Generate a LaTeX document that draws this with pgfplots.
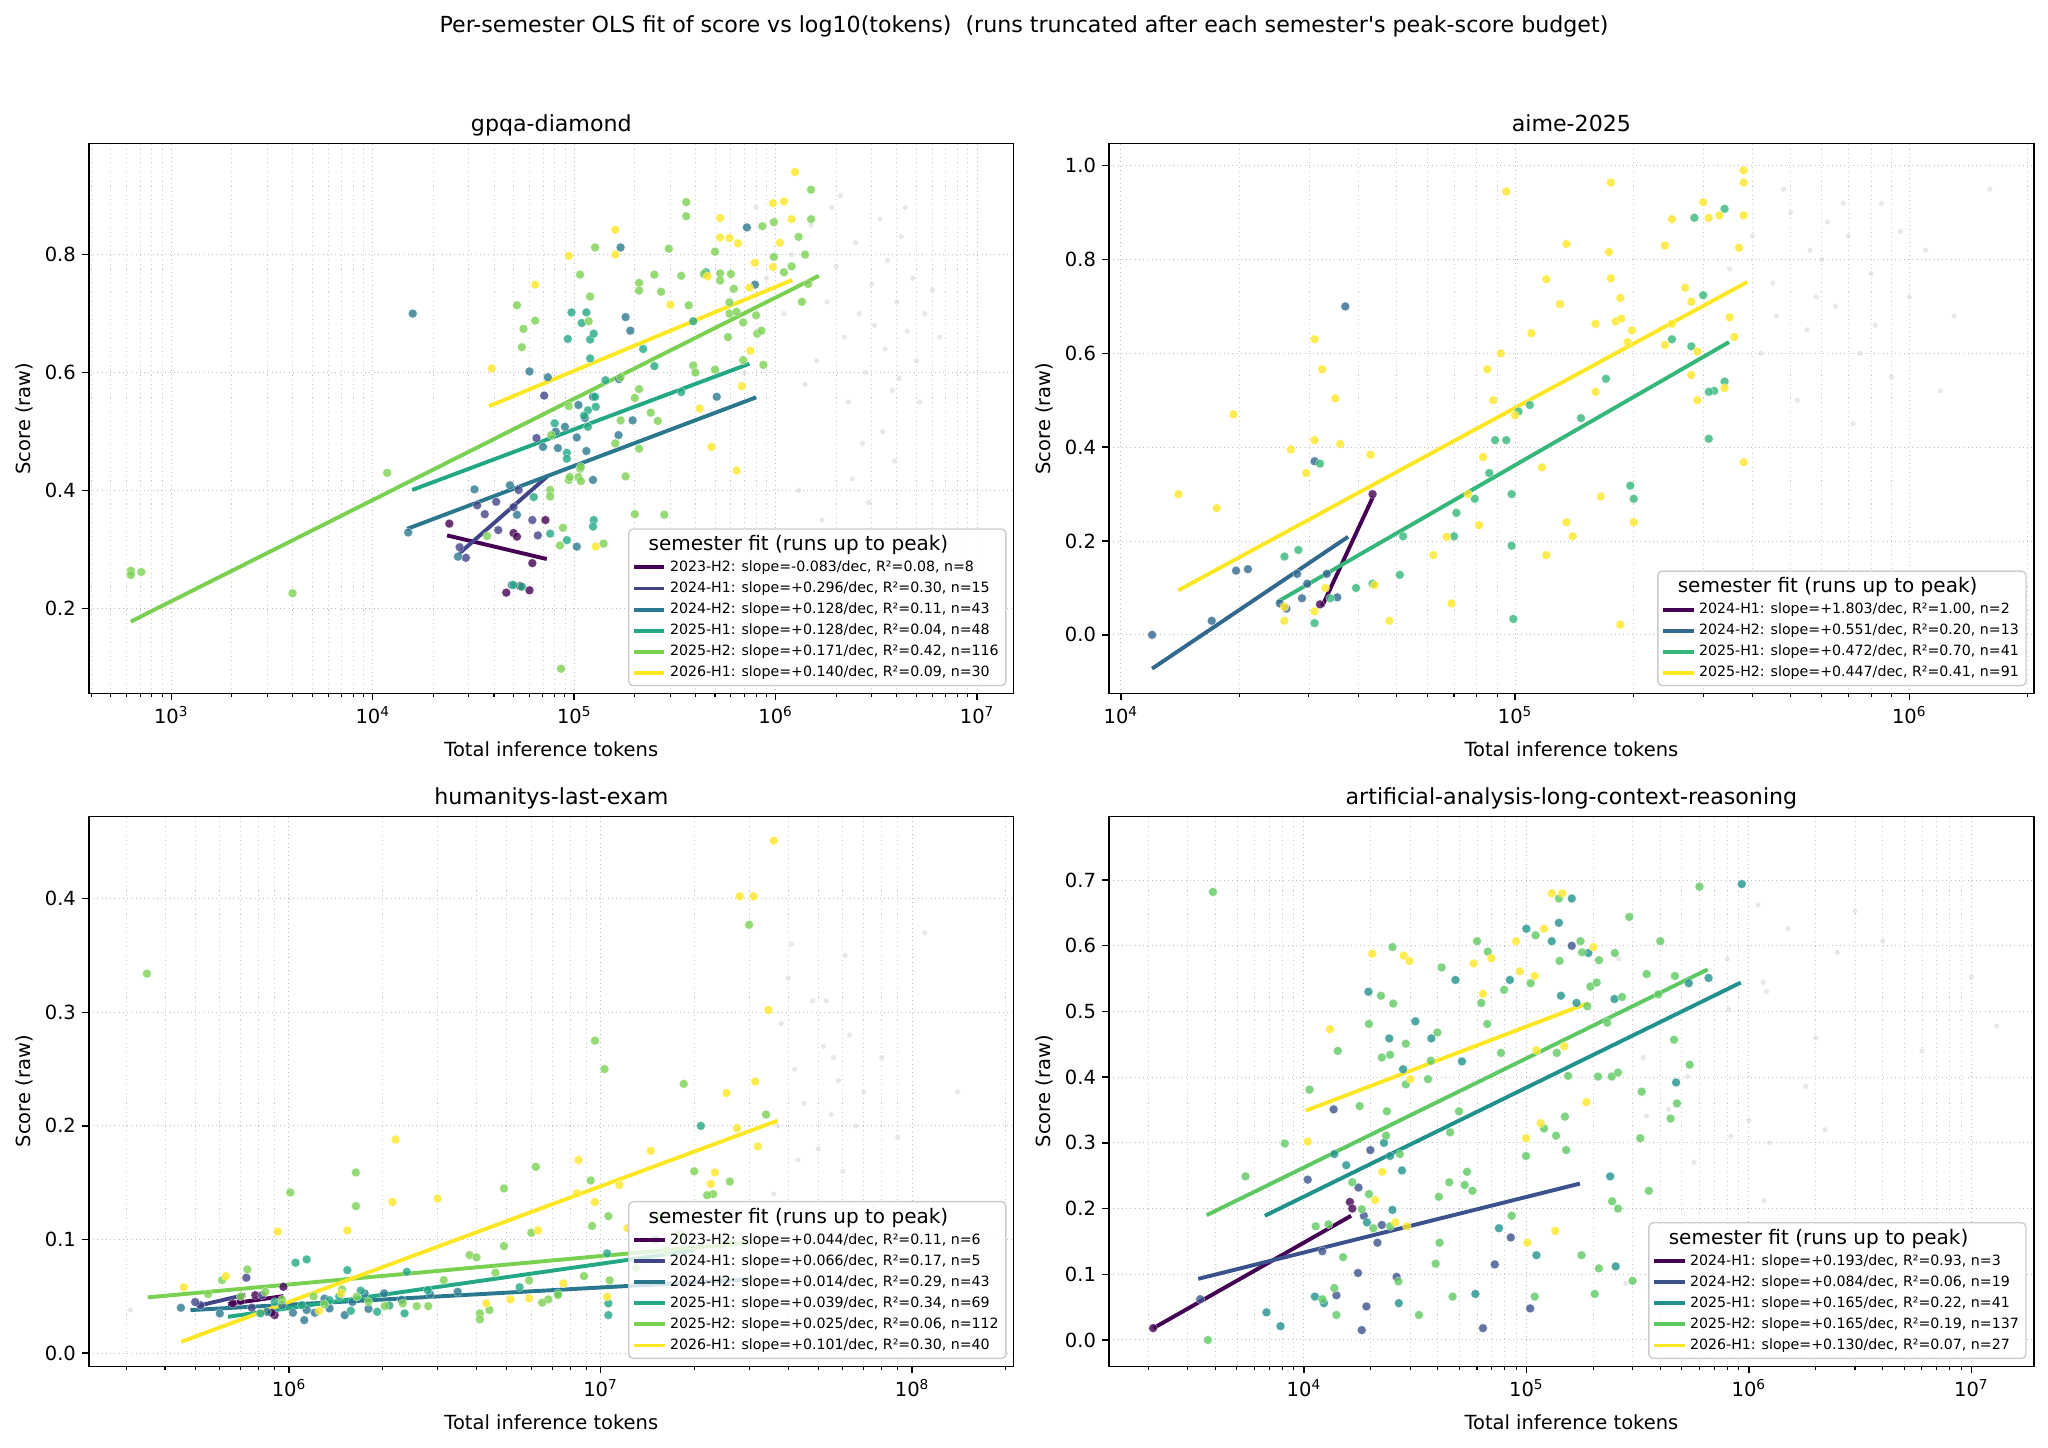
\documentclass[border=0pt]{standalone}
\usepackage{fontspec}
\setmainfont{DejaVu Sans}
\usepackage{pgfplots}
\pgfplotsset{compat=1.18}
\definecolor{vA}{HTML}{440154}
\definecolor{vB}{HTML}{414487}
\definecolor{vC}{HTML}{2A788E}
\definecolor{vD}{HTML}{22A884}
\definecolor{vE}{HTML}{7AD151}
\definecolor{vF}{HTML}{FDE725}
\definecolor{wB}{HTML}{31688E}
\definecolor{wC}{HTML}{35B779}
\definecolor{uB}{HTML}{3B528B}
\definecolor{uC}{HTML}{21918C}
\definecolor{uD}{HTML}{5EC962}
\pgfplotsset{
  every axis title shift=0pt,
  every axis/.append style={
    scale only axis, width=520.2bp, height=309.3bp, anchor=north west,
    tick align=outside, tick pos=left,
    major tick length=3.85bp, minor tick length=2.2bp,
    every tick/.style={black, line width=0.8bp},
    every minor tick/.style={black, line width=0.6bp},
    axis line style={line width=0.8bp, black},
    xmajorgrids, xminorgrids, ymajorgrids,
    grid style={dotted, line width=0.6bp, black!25},
    minor grid style={dotted, line width=0.5bp, black!20},
    tick label style={font=\fontsize{11}{13}\selectfont},
    title style={at={(axis description cs:0.5,1.0213)}, anchor=base, inner sep=0pt, font=\fontsize{12.5}{15}\selectfont},
    xlabel style={at={(axis description cs:0.5,-0.1148)}, anchor=base, inner sep=0pt, font=\fontsize{11}{13}\selectfont},
    ylabel style={at={(axis description cs:-0.0631,0.5)}, anchor=base, inner sep=0pt, font=\fontsize{11}{13}\selectfont},
    xlabel={Total inference tokens}, ylabel={Score (raw)},
    legend cell align=left,
    legend style={at={(axis description cs:1,0)}, anchor=south east, xshift=-4bp, yshift=4bp,
      font=\fontsize{8}{9.6}\selectfont, draw=black!20, rounded corners=2.5bp, line width=0.8bp,
      fill=white, fill opacity=0.8, text opacity=1, draw opacity=1,
      inner xsep=2bp, inner ysep=1.5bp, row sep=0.3bp, nodes={inner sep=2bp}},
  },
  mypts/.style={only marks, mark=*, mark size=2.5bp, color=#1, mark options={fill=#1, draw=white, line width=0.25bp, fill opacity=0.8, draw opacity=0.6}, forget plot},
  mygray/.style={only marks, mark=*, mark size=1.5bp, color=black!18, mark options={fill=black!18, draw=black!18, draw opacity=0, fill opacity=0.5}, forget plot},
  myfit/.style={color=#1, line width=2.2bp, no markers},
}
\newcommand{\legtitle}{\addlegendimage{empty legend}\addlegendentry{\fontsize{11.3}{13}\selectfont\hspace{-12bp}semester fit (runs up to peak)}}
\begin{document}
\begin{tikzpicture}
\path[use as bounding box] (0,0) rectangle (1152bp,-814.5bp);
\node[font=\fontsize{12.5}{15}\selectfont, anchor=base] at (576bp,-18.5bp) {Per-semester OLS fit of score vs log10(tokens)\ \ (runs truncated after each semester\textquotesingle s peak-score budget)};

% ---------------- gpqa-diamond ----------------
\begin{axis}[xmode=log, at={(50bp,-80.8bp)}, title={gpqa-diamond},
  xmin=390, xmax=1.52e7, ymin=0.056, ymax=0.988,
  xtick={1e3,1e4,1e5,1e6,1e7},
  xticklabels={10\textsuperscript{3},10\textsuperscript{4},10\textsuperscript{5},10\textsuperscript{6},10\textsuperscript{7}},
  minor xtick={4e2,5e2,6e2,7e2,8e2,9e2,2e3,3e3,4e3,5e3,6e3,7e3,8e3,9e3,2e4,3e4,4e4,5e4,6e4,7e4,8e4,9e4,2e5,3e5,4e5,5e5,6e5,7e5,8e5,9e5,2e6,3e6,4e6,5e6,6e6,7e6,8e6,9e6},
  ytick={0.2,0.4,0.6,0.8}, yticklabels={0.2,0.4,0.6,0.8}]
\legtitle
\addplot[mygray] coordinates {(1.2e6,0.80) (1.5e6,0.85) (1.8e6,0.72) (2.0e6,0.78) (2.2e6,0.66) (2.5e6,0.82) (2.6e6,0.70) (2.8e6,0.60) (3.0e6,0.75) (3.1e6,0.68) (3.3e6,0.86) (3.5e6,0.64) (3.6e6,0.79) (3.8e6,0.57) (4.0e6,0.72) (4.2e6,0.83) (4.5e6,0.67) (4.8e6,0.76) (5.0e6,0.62) (5.5e6,0.70) (6.0e6,0.74) (2.3e6,0.55) (2.7e6,0.48) (3.4e6,0.50) (1.6e6,0.62) (1.4e6,0.58) (1.9e6,0.88) (2.1e6,0.90) (4.4e6,0.88) (3.9e6,0.45) (1.3e6,0.40) (2.4e6,0.42) (1.7e6,0.35) (5.2e6,0.55) (6.5e6,0.66) (9e5,0.76) (7e5,0.60) (8e5,0.88) (5e5,0.30) (1.1e6,0.70) (2.9e6,0.38) (4.1e6,0.59)};
\addplot[mypts=vA] coordinates {(2.4e4,0.344) (5.0e4,0.328) (5.2e4,0.322) (7.2e4,0.350) (6.2e4,0.277) (6.0e4,0.231) (4.6e4,0.227) (5.4e4,0.238)};
\addplot[mypts=vB] coordinates {(6.5e4,0.489) (3.3e4,0.375) (4.1e4,0.381) (5.3e4,0.401) (5.0e4,0.372) (6.2e4,0.350) (4.2e4,0.333) (6.6e4,0.324) (2.9e4,0.286) (2.7e4,0.304) (7.1e4,0.561) (3.6e4,0.36)};
\addplot[mypts=vC] coordinates {(1.58e4,0.70) (1.5e4,0.329) (3.2e4,0.402) (6.0e4,0.602) (7.4e4,0.592) (9.0e4,0.508) (8.3e4,0.472) (1.05e5,0.545) (1.15e5,0.467) (1.24e5,0.559) (1.67e5,0.589) (1.8e5,0.694) (1.7e5,0.812) (1.9e5,0.671) (5.1e5,0.559) (7.2e5,0.846) (7.9e5,0.749) (1.24e5,0.418) (1.66e5,0.494) (1.95e5,0.519) (1.03e5,0.49) (1.13e5,0.523) (7.0e4,0.474) (4.8e4,0.409) (5.2e4,0.359) (2.65e4,0.288) (4.9e4,0.24) (1.03e5,0.305) (8.1e4,0.50)};
\addplot[mypts=vD] coordinates {(6.3e4,0.389) (7.6e4,0.327) (9.2e4,0.316) (1.25e5,0.35) (1.24e5,0.339) (5.0e4,0.24) (5.5e4,0.237) (8.0e4,0.514) (9.2e4,0.464) (9.2e4,0.454) (1.17e5,0.536) (1.28e5,0.542) (1.12e5,0.527) (1.17e5,0.508) (9.7e4,0.702) (1.15e5,0.702) (1.09e5,0.684) (1.2e5,0.656) (1.2e5,0.624) (1.25e5,0.666) (9.3e4,0.657) (1.27e5,0.559) (1.43e5,0.587) (3.9e5,0.687) (4.5e5,0.77) (2.5e5,0.611) (3.4e5,0.567) (2.2e5,0.64)};
\addplot[mypts=vE] coordinates {(630,0.264) (630,0.257) (710,0.262) (4.0e3,0.226) (1.18e4,0.43) (5.2e4,0.714) (5.6e4,0.674) (5.5e4,0.643) (6.4e4,0.688) (1.07e5,0.766) (1.2e5,0.729) (1.18e5,0.687) (1.27e5,0.812) (2.1e5,0.752) (2.1e5,0.739) (2.5e5,0.766) (2.7e5,0.737) (2.95e5,0.81) (3.4e5,0.764) (3.7e5,0.714) (3.6e5,0.865) (3.6e5,0.889) (4.4e5,0.767) (5.0e5,0.805) (5.3e5,0.768) (6.0e5,0.767) (5.3e5,0.756) (6.2e5,0.742) (5.9e5,0.719) (5.9e5,0.70) (6.4e5,0.703) (6.9e5,0.685) (5.8e5,0.66) (6.9e5,0.621) (8.0e5,0.697) (8.1e5,0.666) (9.8e5,0.796) (8.6e5,0.848) (9.8e5,0.855) (8.7e5,0.613) (8.5e5,0.671) (3.9e5,0.612) (4.0e5,0.60) (5.0e5,0.605) (2.0e5,0.557) (2.1e5,0.572) (2.4e5,0.532) (2.6e5,0.518) (2.1e5,0.471) (1.8e5,0.424) (1.7e5,0.519) (1.7e5,0.592) (1.6e5,0.48) (1.07e5,0.437) (1.05e5,0.423) (9.4e4,0.418) (7.6e4,0.401) (7.6e4,0.39) (8.8e4,0.337) (2.8e5,0.359) (3.7e4,0.323) (8.5e4,0.307) (1.08e5,0.44) (9.5e4,0.423) (1.08e5,0.416) (7.7e4,0.494) (9.4e4,0.543) (8.6e4,0.098) (1.2e6,0.78) (1.3e6,0.83) (1.4e6,0.80) (1.5e6,0.91) (1.45e6,0.75) (1.35e6,0.72) (1.1e6,0.77) (1.5e6,0.86) (2.0e5,0.36) (1.4e5,0.31)};
\addplot[mypts=vF] coordinates {(3.9e4,0.607) (6.4e4,0.749) (9.4e4,0.798) (1.6e5,0.842) (1.6e5,0.80) (3.0e5,0.715) (4.6e5,0.763) (5.3e5,0.862) (5.3e5,0.829) (5.9e5,0.828) (6.5e5,0.819) (7.4e5,0.744) (7.9e5,0.786) (9.7e5,0.887) (9.7e5,0.779) (7.5e5,0.637) (6.8e5,0.577) (4.2e5,0.539) (4.8e5,0.474) (6.4e5,0.434) (1.28e5,0.305) (1.25e6,0.94) (1.1e6,0.89) (1.05e6,0.82) (1.2e6,0.86)};
\addplot[myfit=vA] coordinates {(2.34e4,0.324) (7.31e4,0.284)};
\addlegendentry{2023-H2: slope=-0.083/dec, R²=0.08, n=8}
\addplot[myfit=vB] coordinates {(2.68e4,0.293) (7.41e4,0.425)};
\addlegendentry{2024-H1: slope=+0.296/dec, R²=0.30, n=15}
\addplot[myfit=vC] coordinates {(1.48e4,0.335) (8.0e5,0.558)};
\addlegendentry{2024-H2: slope=+0.128/dec, R²=0.11, n=43}
\addplot[myfit=vD] coordinates {(1.57e4,0.401) (7.41e5,0.615)};
\addlegendentry{2025-H1: slope=+0.128/dec, R²=0.04, n=48}
\addplot[myfit=vE] coordinates {(630,0.178) (1.64e6,0.764)};
\addlegendentry{2025-H2: slope=+0.171/dec, R²=0.42, n=116}
\addplot[myfit=vF] coordinates {(3.78e4,0.543) (1.21e6,0.757)};
\addlegendentry{2026-H1: slope=+0.140/dec, R²=0.09, n=30}
\end{axis}

% ---------------- aime-2025 ----------------
\begin{axis}[xmode=log, at={(623.8bp,-80.8bp)}, title={aime-2025},
  xmin=9.33e3, xmax=2.07e6, ymin=-0.125, ymax=1.047,
  xtick={1e4,1e5,1e6},
  xticklabels={10\textsuperscript{4},10\textsuperscript{5},10\textsuperscript{6}},
  minor xtick={2e4,3e4,4e4,5e4,6e4,7e4,8e4,9e4,2e5,3e5,4e5,5e5,6e5,7e5,8e5,9e5,2e6},
  ytick={0,0.2,0.4,0.6,0.8,1.0}, yticklabels={0.0,0.2,0.4,0.6,0.8,1.0}]
\legtitle
\addplot[mygray] coordinates {(4e5,0.85) (4.5e5,0.75) (5e5,0.9) (5.5e5,0.65) (6e5,0.8) (6.5e5,0.7) (7e5,0.85) (7.5e5,0.6) (8e5,0.77) (8.5e5,0.92) (9e5,0.55) (1e6,0.72) (1.1e6,0.82) (1.3e6,0.68) (1.6e6,0.95) (4.2e5,0.6) (5.2e5,0.5) (6.2e5,0.88) (7.2e5,0.45) (8.2e5,0.66) (9.5e5,0.86) (4.8e5,0.95) (5.8e5,0.72) (6.8e5,0.92) (3.5e5,0.78) (1.2e6,0.52) (5.6e5,0.82) (4.6e5,0.68)};
\addplot[mypts=vA] coordinates {(3.2e4,0.065) (4.35e4,0.30)};
\addplot[mypts=wB] coordinates {(1.2e4,0.0) (1.7e4,0.03) (1.96e4,0.137) (2.1e4,0.14) (2.53e4,0.067) (2.63e4,0.056) (2.88e4,0.078) (2.97e4,0.109) (3.33e4,0.13) (3.71e4,0.70) (3.54e4,0.08) (3.1e4,0.37) (2.8e4,0.13)};
\addplot[mypts=wC] coordinates {(2.6e4,0.167) (2.82e4,0.181) (3.2e4,0.365) (3.95e4,0.10) (4.35e4,0.109) (5.1e4,0.128) (5.2e4,0.21) (7.0e4,0.21) (7.1e4,0.26) (7.9e4,0.29) (8.6e4,0.345) (8.9e4,0.415) (9.5e4,0.415) (9.8e4,0.19) (9.8e4,0.30) (9.9e4,0.034) (1.02e5,0.476) (1.09e5,0.49) (1.47e5,0.462) (1.7e5,0.546) (2.0e5,0.29) (1.96e5,0.318) (2.5e5,0.63) (2.8e5,0.615) (2.85e5,0.889) (3.4e5,0.908) (3.0e5,0.724) (3.1e5,0.418) (3.2e5,0.52) (3.4e5,0.54) (3.1e5,0.518) (3.1e4,0.025) (3.4e4,0.078)};
\addplot[mypts=vF] coordinates {(1.4e4,0.30) (1.75e4,0.27) (1.93e4,0.47) (2.7e4,0.395) (3.1e4,0.63) (3.24e4,0.566) (3.5e4,0.504) (3.6e4,0.407) (3.1e4,0.415) (2.95e4,0.345) (3.3e4,0.10) (4.3e4,0.384) (4.4e4,0.106) (4.8e4,0.03) (6.2e4,0.17) (6.7e4,0.209) (6.9e4,0.067) (7.6e4,0.30) (8.1e4,0.234) (8.3e4,0.379) (8.5e4,0.566) (8.8e4,0.50) (9.2e4,0.60) (9.5e4,0.945) (1.0e5,0.468) (1.1e5,0.643) (1.17e5,0.357) (1.2e5,0.17) (1.2e5,0.758) (1.3e5,0.705) (1.35e5,0.24) (1.4e5,0.21) (1.35e5,0.833) (1.6e5,0.518) (1.6e5,0.663) (1.65e5,0.295) (1.73e5,0.816) (1.75e5,0.76) (1.8e5,0.668) (1.85e5,0.718) (1.86e5,0.674) (1.93e5,0.624) (1.98e5,0.649) (2.0e5,0.24) (1.75e5,0.964) (2.4e5,0.618) (2.4e5,0.83) (2.5e5,0.663) (2.5e5,0.886) (2.7e5,0.74) (2.8e5,0.71) (2.8e5,0.554) (2.9e5,0.50) (2.9e5,0.604) (3.0e5,0.922) (3.1e5,0.889) (3.3e5,0.894) (3.5e5,0.677) (3.4e5,0.526) (3.6e5,0.635) (3.7e5,0.825) (3.8e5,0.368) (3.8e5,0.99) (3.8e5,0.964) (3.8e5,0.894) (1.85e5,0.022) (2.6e4,0.03) (2.6e4,0.06) (3.1e4,0.05)};
\addplot[myfit=vA] coordinates {(3.24e4,0.061) (4.36e4,0.294)};
\addlegendentry{2024-H1: slope=+1.803/dec, R²=1.00, n=2}
\addplot[myfit=wB] coordinates {(1.2e4,-0.072) (3.77e4,0.209)};
\addlegendentry{2024-H2: slope=+0.551/dec, R²=0.20, n=13}
\addplot[myfit=wC] coordinates {(2.49e4,0.07) (3.49e5,0.624)};
\addlegendentry{2025-H1: slope=+0.472/dec, R²=0.70, n=41}
\addplot[myfit=vF] coordinates {(1.4e4,0.095) (3.88e5,0.752)};
\addlegendentry{2025-H2: slope=+0.447/dec, R²=0.41, n=91}
\end{axis}

% ---------------- humanitys-last-exam ----------------
\begin{axis}[xmode=log, at={(50bp,-459.2bp)}, title={humanitys-last-exam},
  xmin=2.28e5, xmax=2.12e8, ymin=-0.0115, ymax=0.4724,
  xtick={1e6,1e7,1e8},
  xticklabels={10\textsuperscript{6},10\textsuperscript{7},10\textsuperscript{8}},
  minor xtick={3e5,4e5,5e5,6e5,7e5,8e5,9e5,2e6,3e6,4e6,5e6,6e6,7e6,8e6,9e6,2e7,3e7,4e7,5e7,6e7,7e7,8e7,9e7,2e8},
  ytick={0,0.1,0.2,0.3,0.4}, yticklabels={0.0,0.1,0.2,0.3,0.4}]
\legtitle
\addplot[mygray] coordinates {(3.1e5,0.038) (3.8e7,0.29) (4.0e7,0.33) (4.2e7,0.25) (4.5e7,0.22) (4.8e7,0.31) (5.0e7,0.18) (5.2e7,0.27) (5.5e7,0.21) (5.8e7,0.24) (6.0e7,0.16) (6.3e7,0.28) (6.6e7,0.20) (7.0e7,0.23) (7.5e7,0.13) (8.0e7,0.26) (4.4e7,0.12) (5.4e7,0.09) (3.6e7,0.14) (3.9e7,0.06) (4.6e7,0.05) (6.8e7,0.10) (9.0e7,0.19) (1.1e8,0.37) (1.4e8,0.23) (4.1e7,0.36) (5.3e7,0.31) (6.1e7,0.35) (3.7e7,0.20) (4.3e7,0.17) (5.6e7,0.26)};
\addplot[mypts=vA] coordinates {(9.6e5,0.0584) (9.0e5,0.0335) (7.8e5,0.051) (6.6e5,0.0438) (8.8e5,0.0356) (7.0e5,0.046)};
\addplot[mypts=vB] coordinates {(7.3e5,0.0664) (5.2e5,0.0423) (8.2e5,0.051) (5.0e5,0.045) (7.6e5,0.040)};
\addplot[mypts=vC] coordinates {(1.12e6,0.0291) (1.21e6,0.0356) (1.51e6,0.0335) (1.75e6,0.0526) (2.02e6,0.0526) (3.48e6,0.054) (2.84e6,0.0517) (1.03e6,0.0356) (8.5e5,0.0364) (1.35e6,0.0394) (1.14e6,0.038) (9.5e5,0.042) (1.6e6,0.045) (2.3e6,0.047) (4.5e5,0.040) (6.0e5,0.035) (1.3e6,0.048) (1.8e6,0.039)};
\addplot[mypts=vD] coordinates {(1.05e6,0.0796) (1.14e6,0.0825) (1.54e6,0.0731) (2.39e6,0.0716) (2.35e6,0.035) (1.92e6,0.0364) (2.79e6,0.0555) (7.3e6,0.0526) (1.05e7,0.0878) (1.06e7,0.0335) (1.06e7,0.0438) (1.58e6,0.0373) (1.35e6,0.0467) (1.1e6,0.0423) (8.1e5,0.035) (2.1e7,0.20) (1.7e6,0.055) (2.1e6,0.042) (1.45e6,0.05) (9.0e5,0.045) (5.5e6,0.058) (1.5e7,0.10)};
\addplot[mypts=vE] coordinates {(3.5e5,0.334) (1.01e6,0.1414) (1.64e6,0.1294) (7.35e5,0.0737) (6.1e5,0.0643) (8.4e5,0.054) (1.48e6,0.056) (3.14e6,0.0643) (3.8e6,0.0863) (4.0e6,0.0843) (4.9e6,0.0942) (4.6e6,0.0708) (5.9e6,0.064) (6.0e6,0.106) (4.1e6,0.035) (4.1e6,0.0297) (6.8e6,0.0473) (8.85e6,0.0678) (9.4e6,0.112) (1.06e7,0.1206) (1.07e7,0.064) (9.3e6,0.152) (2.6e7,0.151) (2.3e7,0.14) (4.4e6,0.038) (2.8e6,0.0414) (2.57e6,0.0414) (2.32e6,0.0438) (2.03e6,0.0414) (1.8e6,0.0452) (1.65e6,0.0497) (6.5e6,0.0444) (7.3e6,0.0511) (3.0e7,0.377) (1.85e7,0.237) (1.03e7,0.25) (9.6e6,0.275) (6.2e6,0.164) (4.9e6,0.145) (1.64e6,0.159) (2.2e7,0.139) (1.63e7,0.09) (2.6e7,0.097) (3.4e7,0.21) (1.2e6,0.05) (1.3e6,0.043) (7.0e5,0.05) (5.5e5,0.052) (9.5e5,0.047) (1.55e7,0.12) (1.3e7,0.075) (2.0e7,0.16) (1.8e7,0.105)};
\addplot[mypts=vF] coordinates {(4.6e5,0.0579) (6.27e5,0.0678) (9.2e5,0.107) (1.54e6,0.108) (2.15e6,0.133) (1.47e6,0.0526) (1.25e6,0.0373) (5.14e6,0.0473) (5.9e6,0.0482) (4.3e6,0.0438) (6.3e6,0.108) (7.6e6,0.0614) (1.05e7,0.0497) (8.4e6,0.1406) (1.15e7,0.148) (2.26e7,0.149) (2.2e6,0.188) (3.0e6,0.136) (8.5e6,0.17) (1.45e7,0.178) (2.33e7,0.159) (3.2e7,0.182) (2.74e7,0.198) (2.8e7,0.402) (3.1e7,0.402) (3.6e7,0.451) (3.46e7,0.302) (3.14e7,0.239) (2.54e7,0.229) (9.6e6,0.133) (1.22e7,0.11)};
\addplot[myfit=vA] coordinates {(6.37e5,0.0432) (9.6e5,0.0502)};
\addlegendentry{2023-H2: slope=+0.044/dec, R²=0.11, n=6}
\addplot[myfit=vB] coordinates {(5.06e5,0.0414) (7.24e5,0.0514)};
\addlegendentry{2024-H1: slope=+0.066/dec, R²=0.17, n=5}
\addplot[myfit=vC] coordinates {(4.83e5,0.0379) (3.0e7,0.065)};
\addlegendentry{2024-H2: slope=+0.014/dec, R²=0.29, n=43}
\addplot[myfit=vD] coordinates {(6.37e5,0.032) (2.0e7,0.0904)};
\addlegendentry{2025-H1: slope=+0.039/dec, R²=0.34, n=69}
\addplot[myfit=vE] coordinates {(3.52e5,0.0491) (3.0e7,0.0974)};
\addlegendentry{2025-H2: slope=+0.025/dec, R²=0.06, n=112}
\addplot[myfit=vF] coordinates {(4.51e5,0.010) (3.7e7,0.2046)};
\addlegendentry{2026-H1: slope=+0.101/dec, R²=0.30, n=40}
\end{axis}

% ---------------- artificial-analysis-long-context-reasoning ----------------
\begin{axis}[xmode=log, at={(623.8bp,-459.2bp)}, title={artificial-analysis-long-context-reasoning},
  xmin=1.33e3, xmax=1.91e7, ymin=-0.040, ymax=0.797,
  xtick={1e4,1e5,1e6,1e7},
  xticklabels={10\textsuperscript{4},10\textsuperscript{5},10\textsuperscript{6},10\textsuperscript{7}},
  minor xtick={2e3,3e3,4e3,5e3,6e3,7e3,8e3,9e3,2e4,3e4,4e4,5e4,6e4,7e4,8e4,9e4,2e5,3e5,4e5,5e5,6e5,7e5,8e5,9e5,2e6,3e6,4e6,5e6,6e6,7e6,8e6,9e6},
  ytick={0,0.1,0.2,0.3,0.4,0.5,0.6,0.7}, yticklabels={0.0,0.1,0.2,0.3,0.4,0.5,0.6,0.7}]
\legtitle
\addplot[mygray] coordinates {(3.35e5,0.43) (3.47e5,0.341) (4.36e5,0.351) (5.3e5,0.401) (5.66e5,0.27) (1.0e6,0.334) (8.3e5,0.31) (1.16e6,0.544) (1.24e6,0.30) (8.1e5,0.503) (1.17e6,0.212) (2.8e5,0.086) (3.6e5,0.074) (2.6e5,0.58) (8e5,0.58) (1.5e6,0.626) (2.5e6,0.59) (3e6,0.653) (1.1e6,0.662) (4e6,0.607) (1e7,0.552) (1.3e7,0.478) (2e6,0.46) (6e6,0.44) (1.8e6,0.386) (2.2e6,0.32) (1.2e6,0.53)};
\addplot[mypts=vA] coordinates {(2.1e3,0.018) (1.61e4,0.21) (1.65e4,0.20)};
\addplot[mypts=uB] coordinates {(3.42e3,0.062) (1.04e4,0.244) (1.36e4,0.351) (1.40e4,0.068) (1.75e4,0.102) (1.76e4,0.232) (1.86e4,0.189) (1.99e4,0.289) (2.14e4,0.148) (2.24e4,0.175) (1.91e4,0.051) (1.82e4,0.015) (2.61e4,0.096) (6.38e4,0.018) (7.21e4,0.115) (8.51e4,0.156) (1.04e5,0.048) (1.6e5,0.60) (1.21e4,0.135)};
\addplot[mypts=uC] coordinates {(6.79e3,0.042) (7.85e3,0.021) (1.12e4,0.066) (1.23e4,0.056) (1.37e4,0.283) (1.55e4,0.266) (1.92e4,0.179) (1.95e4,0.530) (2.29e4,0.300) (2.44e4,0.280) (2.50e4,0.198) (2.67e4,0.056) (2.42e4,0.459) (2.79e4,0.412) (2.76e4,0.258) (3.17e4,0.485) (3.74e4,0.459) (4.80e4,0.548) (5.13e4,0.424) (5.90e4,0.070) (7.53e4,0.170) (8.43e4,0.548) (1.11e5,0.129) (1.43e5,0.524) (1.68e5,0.513) (2.49e5,0.519) (2.52e5,0.112) (2.38e5,0.249) (4.71e5,0.392) (5.37e5,0.543) (6.59e5,0.551) (9.3e5,0.694) (1.0e5,0.626) (1.4e5,0.635) (1.6e5,0.672) (1.3e5,0.607) (1.9e5,0.589)};
\addplot[mypts=uD] coordinates {(3.7e3,0.0) (5.46e3,0.249) (8.2e3,0.299) (1.06e4,0.381) (1.42e4,0.440) (1.13e4,0.173) (1.29e4,0.176) (1.40e4,0.038) (1.37e4,0.079) (1.21e4,0.062) (1.50e4,0.126) (1.65e4,0.240) (1.78e4,0.356) (1.96e4,0.481) (1.82e4,0.199) (1.96e4,0.222) (2.05e4,0.170) (2.22e4,0.524) (2.52e4,0.512) (2.24e4,0.430) (2.44e4,0.434) (2.36e4,0.348) (2.34e4,0.311) (2.70e4,0.283) (2.44e4,0.173) (2.66e4,0.089) (2.87e4,0.451) (2.87e4,0.389) (3.61e4,0.397) (3.72e4,0.425) (3.98e4,0.468) (4.16e4,0.567) (3.29e4,0.038) (4.04e4,0.218) (4.07e4,0.148) (3.91e4,0.116) (4.66e4,0.066) (4.50e4,0.240) (4.98e4,0.348) (4.54e4,0.316) (5.28e4,0.236) (5.41e4,0.256) (5.72e4,0.227) (6.27e4,0.513) (6.67e4,0.481) (7.69e4,0.437) (7.94e4,0.533) (8.59e4,0.189) (1.045e5,0.543) (9.96e4,0.280) (1.09e5,0.066) (1.2e5,0.322) (1.36e5,0.311) (1.37e5,0.437) (1.49e5,0.340) (1.51e5,0.289) (1.54e5,0.402) (1.77e5,0.129) (1.94e5,0.538) (2.07e5,0.544) (1.88e5,0.508) (2.10e5,0.401) (2.03e5,0.070) (2.12e5,0.109) (2.31e5,0.483) (2.42e5,0.401) (2.58e5,0.407) (2.43e5,0.211) (2.58e5,0.200) (3.00e5,0.090) (3.25e5,0.307) (3.30e5,0.378) (3.55e5,0.227) (3.92e5,0.526) (4.45e5,0.337) (4.61e5,0.457) (4.75e5,0.360) (4.65e5,0.554) (5.42e5,0.419) (3.47e5,0.557) (2.69e5,0.522) (2.12e5,0.578) (1.78e5,0.590) (1.41e5,0.577) (6.71e4,0.591) (3.9e3,0.682) (2.5e4,0.598) (1.1e5,0.616) (1.4e5,0.672) (1.75e5,0.607) (2.5e5,0.589) (4e5,0.607) (6e5,0.69) (6e4,0.607) (2.9e5,0.644)};
\addplot[mypts=vF] coordinates {(1.31e4,0.473) (1.04e4,0.302) (2.25e4,0.256) (2.09e4,0.213) (2.58e4,0.179) (2.9e4,0.173) (3.01e4,0.397) (2.03e4,0.588) (2.81e4,0.585) (2.98e4,0.577) (5.79e4,0.573) (6.96e4,0.581) (6.38e4,0.527) (9.33e4,0.561) (1.09e5,0.554) (1.11e5,0.441) (1.16e5,0.330) (9.96e4,0.307) (1.01e5,0.148) (1.35e5,0.166) (1.48e5,0.447) (1.86e5,0.362) (1.3e5,0.68) (1.45e5,0.68) (2e5,0.598) (1.2e5,0.626) (9e4,0.607)};
\addplot[myfit=vA] coordinates {(2.10e3,0.0177) (1.63e4,0.189)};
\addlegendentry{2024-H1: slope=+0.193/dec, R²=0.93, n=3}
\addplot[myfit=uB] coordinates {(3.35e3,0.093) (1.74e5,0.238)};
\addlegendentry{2024-H2: slope=+0.084/dec, R²=0.06, n=19}
\addplot[myfit=uC] coordinates {(6.67e3,0.189) (9.2e5,0.544)};
\addlegendentry{2025-H1: slope=+0.165/dec, R²=0.22, n=41}
\addplot[myfit=uD] coordinates {(3.66e3,0.190) (6.53e5,0.564)};
\addlegendentry{2025-H2: slope=+0.165/dec, R²=0.19, n=137}
\addplot[myfit=vF] coordinates {(1.02e4,0.349) (1.90e5,0.513)};
\addlegendentry{2026-H1: slope=+0.130/dec, R²=0.07, n=27}
\end{axis}
\end{tikzpicture}
\end{document}
